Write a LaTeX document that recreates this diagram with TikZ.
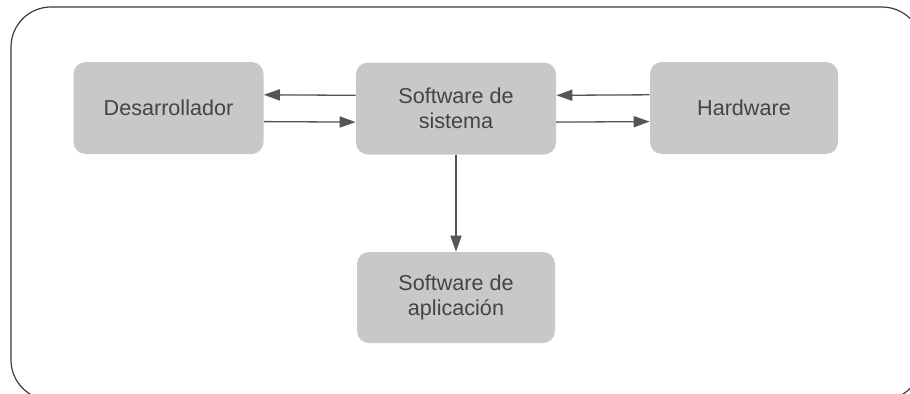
\documentclass[tikz,border=0pt]{standalone}
\usepackage{fontspec}
\setmainfont{Liberation Sans}
\usepackage{xcolor}
\usepackage{tikz}
\usetikzlibrary{arrows.meta}

\definecolor{boxgray}{HTML}{C8C8C9}
\definecolor{txtgray}{HTML}{444444}
\definecolor{arrgray}{HTML}{555555}
\definecolor{framegray}{HTML}{3C3C3C}

\begin{document}
\begin{tikzpicture}[
  x=0.5pt, y=-0.5pt,
  every node/.style={font=\fontsize{10.8}{12.5}\selectfont, text=txtgray},
  blk/.style={fill=boxgray, rounded corners=6pt, align=center,
              minimum width=95pt, minimum height=46pt, inner sep=0pt},
  arr/.style={-{Triangle[length=8pt,width=5.6pt]}, line width=0.65pt, draw=arrgray, fill=arrgray}
]
\useasboundingbox (0,0) rectangle (910,393);
\begin{scope}
  \clip (0,0) rectangle (910,393);
  \draw[framegray, line width=0.6pt, rounded corners=20pt] (11,7) rectangle (922,400);
\end{scope}

\node[blk] (dev) at (168.5,108) {Desarrollador};
\node[blk, minimum width=100pt] (sys) at (456,108.5) {Software de\\sistema};
\node[blk, minimum width=94pt] (hw) at (744,108) {Hardware};
\node[blk, minimum width=99pt, minimum height=45.5pt] (app) at (456,297.5) {Software de\\aplicación};

% ida y vuelta
\draw[arr] ([yshift=6.6pt]sys.west) -- ([yshift=6.6pt]dev.east);
\draw[arr] ([yshift=-6.8pt]dev.east) -- ([yshift=-6.8pt]sys.west);
\draw[arr] ([yshift=6.6pt]hw.west) -- ([yshift=6.6pt]sys.east);
\draw[arr] ([yshift=-6.8pt]sys.east) -- ([yshift=-6.8pt]hw.west);
\draw[arr] (sys) -- (app);
\end{tikzpicture}
\end{document}
